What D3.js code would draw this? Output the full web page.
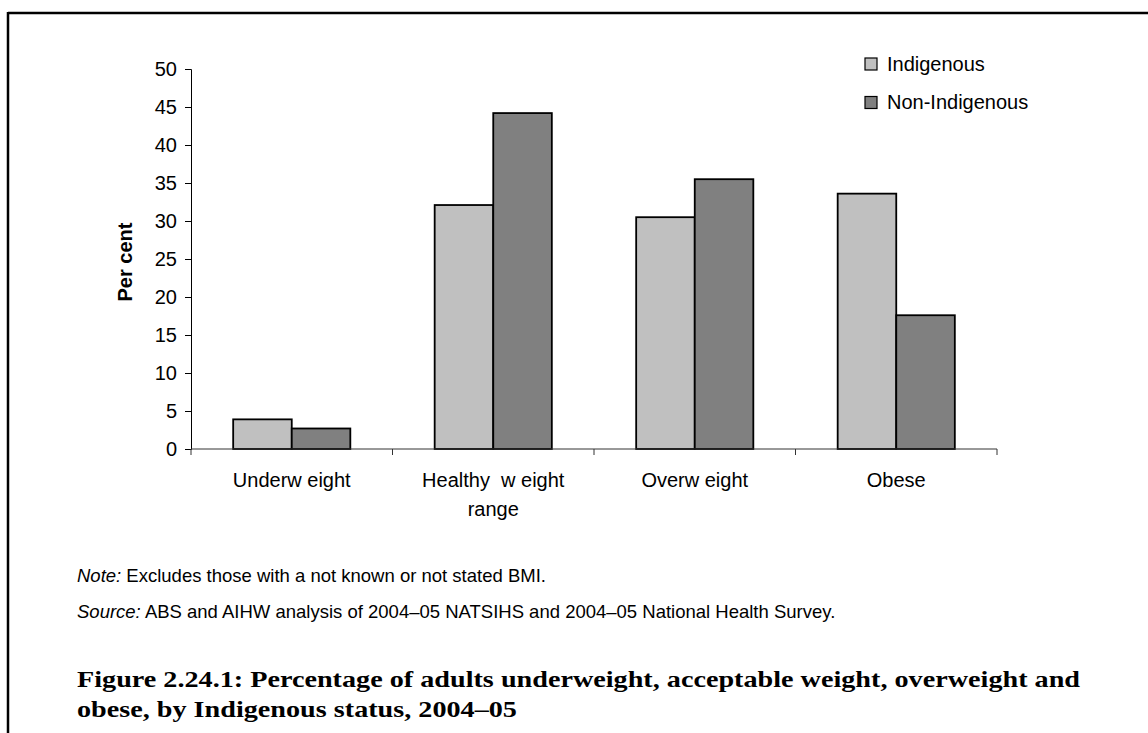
<!DOCTYPE html>
<html>
<head>
<meta charset="utf-8">
<script src="https://cdn.jsdelivr.net/npm/d3@7"></script>
<style>
  html, body { margin: 0; padding: 0; background: #fff; }
  svg { display: block; }
  text { font-family: "Liberation Sans", Arial, sans-serif; fill: #000; }
  text.caption { font-family: "Liberation Serif", "DejaVu Serif", serif; font-weight: bold; }
</style>
</head>
<body>
<svg id="chart" width="1148" height="733"></svg>
<script>
// Adults by BMI category and Indigenous status, 2004–05 (per cent)
const categories = ["Underweight", "Healthy weight range", "Overweight", "Obese"];
const categoryLabels = [["Underw eight"], ["Healthy  w eight", "range"], ["Overw eight"], ["Obese"]];
const seriesNames = ["Indigenous", "Non-Indigenous"];
const indigenous = [3.9, 32.1, 30.5, 33.6];
const nonIndigenous = [2.7, 44.2, 35.5, 17.6];
const yTicks = [0, 5, 10, 15, 20, 25, 30, 35, 40, 45, 50];
const seriesColors = ["#c0c0c0", "#808080"];

const noteText = "Excludes those with a not known or not stated BMI.";
const sourceText = "ABS and AIHW analysis of 2004\u201305 NATSIHS and 2004\u201305 National Health Survey.";
const titleLines = [
  "Figure 2.24.1: Percentage of adults underweight, acceptable weight, overweight and",
  "obese, by Indigenous status, 2004\u201305"
];

const svg = d3.select("#chart");

// Page frame: top rule and left rule
svg.append("line").attr("x1", 8).attr("x2", 1148).attr("y1", 13).attr("y2", 13)
  .attr("stroke", "#000").attr("stroke-width", 2.5);
svg.append("line").attr("x1", 8).attr("x2", 8).attr("y1", 12).attr("y2", 733)
  .attr("stroke", "#000").attr("stroke-width", 2.5);

// Scales
const x0 = d3.scaleBand().domain(categories).range([191, 997]).paddingInner(0).paddingOuter(0);
const x1 = d3.scaleBand().domain(seriesNames).range([0, x0.bandwidth()]).paddingInner(0).paddingOuter(0.72);
const y = d3.scaleLinear().domain([0, 50]).range([449, 69]);

const rows = categories.map((c, i) => ({ cat: c, values: [indigenous[i], nonIndigenous[i]] }));

// Bars
const groups = svg.append("g").selectAll("g").data(rows).join("g")
  .attr("transform", d => `translate(${x0(d.cat)},0)`);
groups.selectAll("rect")
  .data(d => d.values.map((v, j) => ({ name: seriesNames[j], value: v, j })))
  .join("rect")
  .attr("x", d => x1(d.name))
  .attr("width", x1.bandwidth())
  .attr("y", d => y(d.value))
  .attr("height", d => y(0) - y(d.value))
  .attr("fill", d => seriesColors[d.j])
  .attr("stroke", "#000")
  .attr("stroke-width", 1.8);

// Y axis
const yAxis = d3.axisLeft(y).tickValues(yTicks).tickSize(6).tickPadding(8).tickFormat(d3.format("d"));
const gy = svg.append("g").attr("transform", "translate(191,0)").call(yAxis);
gy.select(".domain").attr("stroke", "#000").attr("stroke-width", 1);
gy.selectAll(".tick line").attr("stroke", "#000");
gy.selectAll(".tick text").attr("font-size", 20).style("font-family", "Liberation Sans, Arial, sans-serif").attr("fill", "#000");

// X axis with ticks between categories
const gx = svg.append("g").attr("transform", `translate(0,${y(0)})`);
gx.append("line").attr("x1", x0.range()[0]).attr("x2", x0.range()[1]).attr("stroke", "#333").attr("stroke-width", 1);
const boundaries = categories.map(c => x0(c)).concat([x0.range()[1]]);
gx.selectAll(".bt").data(boundaries).join("line").attr("class", "bt")
  .attr("x1", d => d).attr("x2", d => d).attr("y1", 0).attr("y2", 6)
  .attr("stroke", "#333").attr("stroke-width", 1);

// Category labels
const lab = svg.append("g").selectAll("text").data(categories).join("text")
  .attr("text-anchor", "middle")
  .attr("font-size", 20)
  .attr("x", d => x0(d) + x0.bandwidth() / 2)
  .attr("y", 487);
lab.each(function (d, i) {
  const t = d3.select(this);
  categoryLabels[i].forEach((line, k) => {
    t.append("tspan").attr("x", x0(d) + x0.bandwidth() / 2).attr("dy", k === 0 ? 0 : 29)
      .style("white-space", "pre").text(line);
  });
});

// Y axis title
svg.append("text")
  .attr("transform", "translate(132,262) rotate(-90)")
  .attr("text-anchor", "middle")
  .attr("font-size", 20)
  .attr("font-weight", "bold")
  .text("Per cent");

// Legend
const legend = svg.append("g").selectAll("g").data(seriesNames).join("g")
  .attr("transform", (d, i) => `translate(865,${58 + i * 38.5})`);
legend.append("rect").attr("width", 12).attr("height", 12)
  .attr("fill", (d, i) => seriesColors[i]).attr("stroke", "#000").attr("stroke-width", 1.2);
legend.append("text").attr("x", 22).attr("y", 12.5).attr("font-size", 20).text(d => d);

// Note and source
const footX = 77;
const note = svg.append("text").attr("x", footX).attr("y", 582).attr("font-size", 18.5);
note.append("tspan").attr("font-style", "italic").text("Note:");
note.append("tspan").text(" " + noteText);
const src = svg.append("text").attr("x", footX).attr("y", 618).attr("font-size", 18.5);
src.append("tspan").attr("font-style", "italic").text("Source:");
src.append("tspan").text(" " + sourceText);

// Figure caption, widened to the column measure
const caps = svg.append("g").selectAll("text").data(titleLines).join("text")
  .attr("class", "caption")
  .attr("x", footX)
  .attr("y", (d, i) => 687 + i * 30)
  .attr("font-size", 23)
  .text(d => d);
const natural = caps.nodes().map(n => n.getComputedTextLength());
const stretch = (1080 - footX) / natural[0];
caps.attr("textLength", (d, i) => natural[i] * stretch).attr("lengthAdjust", "spacingAndGlyphs");
</script>
</body>
</html>
